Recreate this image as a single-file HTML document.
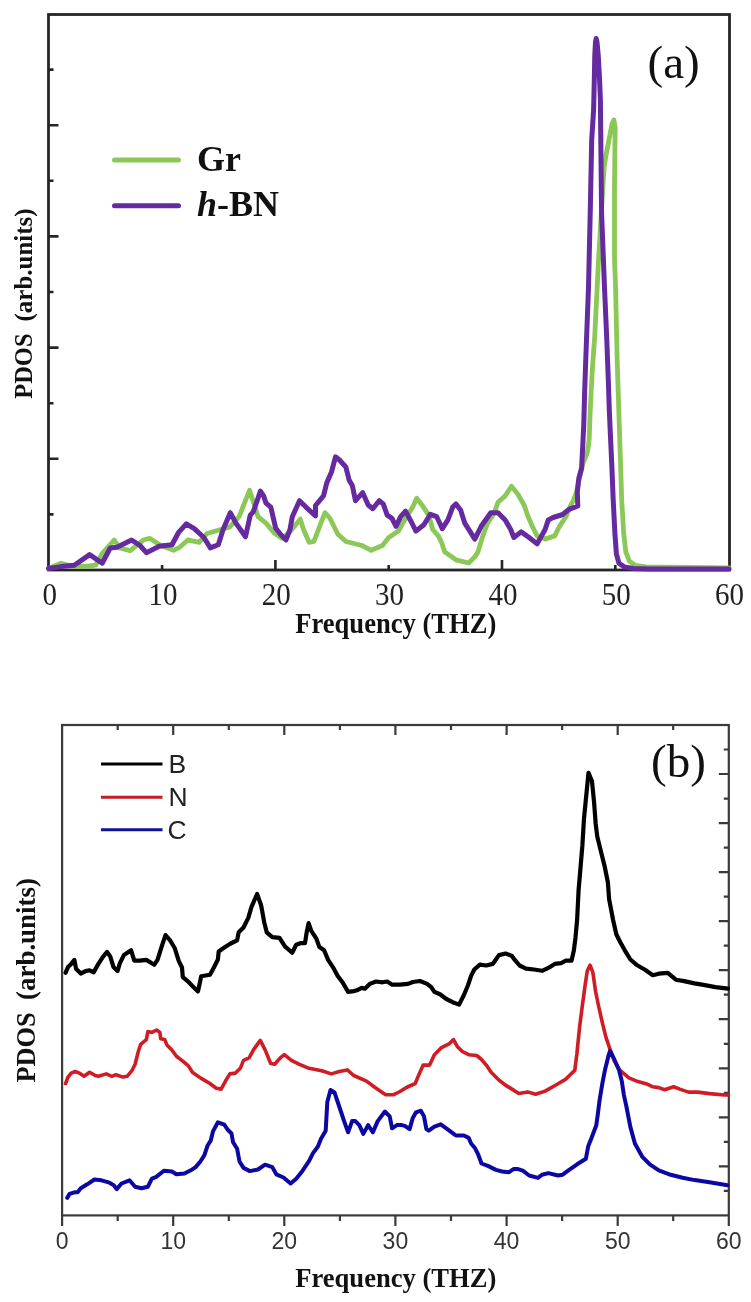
<!DOCTYPE html>
<html><head><meta charset="utf-8"><style>
html,body{margin:0;padding:0;background:#fff;}
svg{display:block;filter:blur(0.45px);}
.ta{font-family:"Liberation Serif",serif;font-size:29px;fill:#222;}
.tb{font-family:"Liberation Sans",sans-serif;font-size:23px;fill:#333;}
.lg{font-family:"Liberation Serif",serif;font-weight:bold;font-size:36px;fill:#111;}
.pl{font-family:"Liberation Serif",serif;font-size:47px;fill:#111;}
.plb{font-family:"Liberation Serif",serif;font-size:47px;fill:#111;}
.xl{font-family:"Liberation Serif",serif;font-weight:bold;font-size:26.6px;fill:#111;}
.yl{font-family:"Liberation Serif",serif;font-weight:bold;font-size:24.5px;fill:#111;}
.ylb{font-family:"Liberation Serif",serif;font-weight:bold;font-size:27.5px;fill:#111;}
.lb{font-family:"Liberation Sans",sans-serif;font-size:25px;fill:#222;}
</style></head><body>
<svg width="751" height="1302" viewBox="0 0 751 1302">
<rect width="751" height="1302" fill="#fff"/>
<rect x="48.5" y="14.5" width="681.0" height="555.5" fill="none" stroke="#262626" stroke-width="2.8"/>
<path d="M48.5,514.4h5 M48.5,458.8h10 M48.5,403.2h5 M48.5,347.6h10 M48.5,292.0h5 M48.5,236.4h10 M48.5,180.8h5 M48.5,125.2h10 M48.5,69.6h5 M162.1,570v-5 M275.4,570v-10 M388.7,570v-5 M502.0,570v-10 M615.3,570v-5" stroke="#262626" stroke-width="2.6" fill="none"/>
<text x="48.8" y="0" transform="translate(0.9,605.3) scale(1,1.09)" text-anchor="middle" class="ta">0</text>
<text x="162.1" y="0" transform="translate(0.9,605.3) scale(1,1.09)" text-anchor="middle" class="ta">10</text>
<text x="275.4" y="0" transform="translate(0.9,605.3) scale(1,1.09)" text-anchor="middle" class="ta">20</text>
<text x="388.7" y="0" transform="translate(0.9,605.3) scale(1,1.09)" text-anchor="middle" class="ta">30</text>
<text x="502.0" y="0" transform="translate(0.9,605.3) scale(1,1.09)" text-anchor="middle" class="ta">40</text>
<text x="615.3" y="0" transform="translate(0.9,605.3) scale(1,1.09)" text-anchor="middle" class="ta">50</text>
<text x="728.6" y="0" transform="translate(0.9,605.3) scale(1,1.09)" text-anchor="middle" class="ta">60</text>
<polyline points="48.5,568.5 61.0,563.2 73.0,566.6 89.0,566.0 95.6,565.2 102.3,553.3 114.2,540.0 119.6,548.0 130.2,550.6 143.5,540.0 149.6,538.3 160.8,545.5 173.6,550.3 180.0,547.1 187.9,539.9 199.1,542.3 207.1,533.5 218.3,530.3 229.5,527.1 239.1,516.7 249.5,490.3 255.0,507.1 258.0,516.7 266.0,523.1 274.0,532.7 282.0,538.3 289.1,532.7 300.3,519.1 303.5,529.5 309.1,542.3 313.9,541.5 320.3,524.7 325.1,512.7 329.9,518.3 337.9,534.3 345.9,541.5 361.9,545.5 371.2,550.3 382.4,545.5 388.8,537.5 398.4,531.1 404.7,519.9 412.7,507.1 416.7,498.3 422.3,505.5 428.7,515.1 432.7,529.5 438.3,535.9 441.5,542.3 444.7,551.9 455.9,559.8 468.7,563.0 475.0,556.6 478.0,551.9 482.8,535.9 487.6,523.1 494.0,513.5 498.0,502.3 505.2,495.9 511.5,486.3 517.9,494.3 524.3,505.5 527.5,515.1 532.3,526.3 537.1,535.9 545.1,539.1 554.7,535.9 559.5,526.3 565.9,516.7 570.7,505.5 573.5,500.0 576.5,492.0 578.5,482.0 581.0,472.0 583.0,463.0 586.5,455.0 587.7,450.6 589.2,439.0 590.0,416.0 591.1,393.0 592.3,370.0 594.7,336.7 598.4,263.0 601.5,210.0 604.1,167.5 606.0,155.2 609.6,136.8 612.0,124.0 613.9,120.0 615.2,128.0 615.0,140.0 614.5,186.0 614.5,223.0 614.5,260.0 615.6,287.5 617.2,361.0 617.8,380.0 618.8,410.0 619.6,435.0 620.6,465.0 621.7,500.0 623.7,533.3 625.8,551.9 629.4,561.2 635.6,565.4 646.0,566.9 729.0,568.0" fill="none" stroke="#8cc857" stroke-width="4.8" stroke-linejoin="round" stroke-linecap="round"/>
<polyline points="48.5,568.5 61.0,566.6 74.3,565.2 89.6,554.6 102.3,563.2 110.2,548.0 116.9,547.3 131.6,540.0 140.0,545.5 146.4,552.7 159.2,546.3 172.0,544.7 178.4,532.7 186.3,523.9 194.3,528.7 203.9,537.5 210.3,547.9 218.3,544.7 223.1,529.5 230.3,512.7 235.9,523.1 245.5,536.7 250.3,515.1 253.2,511.9 257.2,500.7 260.4,491.1 263.6,495.9 266.0,503.1 270.8,507.1 275.6,527.9 280.4,534.3 286.0,539.9 290.0,529.5 292.3,516.7 299.5,500.7 305.9,507.1 315.5,515.9 315.5,505.5 323.5,495.9 326.7,483.1 331.5,472.0 335.5,456.8 339.5,460.0 345.9,467.2 349.1,480.0 352.3,485.5 355.5,500.7 362.7,492.7 368.2,505.0 372.8,508.7 379.2,500.7 383.2,503.9 387.2,515.1 392.0,518.3 396.0,526.3 400.7,516.7 405.5,511.1 411.1,521.5 415.9,531.1 423.9,524.7 430.3,514.3 436.7,516.7 442.3,528.7 447.9,519.9 452.7,507.1 455.9,503.9 460.7,510.3 464.7,523.1 470.3,531.9 474.8,539.1 481.2,526.3 490.8,512.7 498.0,512.7 505.2,519.9 510.7,529.5 513.9,537.5 521.1,531.9 529.1,537.5 537.1,543.9 545.1,529.5 548.3,519.9 553.1,517.5 562.7,514.5 568.8,509.4 574.3,507.4 577.8,506.0 577.3,492.0 578.8,478.4 581.6,468.0 582.7,446.8 583.8,423.7 584.6,393.0 585.4,370.0 586.3,345.0 588.5,287.5 590.2,213.8 591.7,140.0 593.6,110.0 594.3,80.0 594.8,55.0 595.5,42.0 596.2,38.5 597.0,42.0 598.2,55.0 599.6,80.0 600.4,100.0 600.8,140.0 601.6,213.8 604.5,287.5 606.8,340.0 608.3,380.0 609.3,410.0 610.4,435.0 611.8,465.0 613.2,500.0 614.9,533.3 616.4,554.0 619.0,563.3 624.2,566.9 633.5,568.5 650.0,569.0 729.0,569.0" fill="none" stroke="#6529a0" stroke-width="5" stroke-linejoin="round" stroke-linecap="round"/>
<line x1="114.5" y1="160.1" x2="178.5" y2="160.1" stroke="#8cc857" stroke-width="5" stroke-linecap="round"/>
<line x1="114.5" y1="205.7" x2="178.5" y2="205.7" stroke="#6529a0" stroke-width="5" stroke-linecap="round"/>
<text x="197" y="171" class="lg">Gr</text>
<text x="197" y="215.5" class="lg"><tspan font-style="italic">h</tspan>-BN</text>
<text x="647.5" y="78" class="pl">(a)</text>
<text x="295.2" y="0" transform="translate(0,632.6) scale(1,1.1)" class="xl">Frequency (THZ)</text>
<text x="0" y="0" transform="translate(32.2,398.8) rotate(-90)" class="yl">PDOS</text>
<text x="0" y="0" transform="translate(32.2,321.5) rotate(-90) scale(1.02,1)" class="yl">(arb.units)</text>
<rect x="62.1" y="725" width="666.6999999999999" height="490.4000000000001" fill="none" stroke="#3a3a3a" stroke-width="2.2"/>
<path d="M117.7,725v5 M173.2,725v10 M228.8,725v5 M284.3,725v10 M339.9,725v5 M395.4,725v10 M451.0,725v5 M506.6,725v10 M562.1,725v5 M617.7,725v10 M673.2,725v5 M62.1,1215.4v10.5 M117.7,1215.4v5.5 M173.2,1215.4v10.5 M228.8,1215.4v5.5 M284.3,1215.4v10.5 M339.9,1215.4v5.5 M395.4,1215.4v10.5 M451.0,1215.4v5.5 M506.6,1215.4v10.5 M562.1,1215.4v5.5 M617.7,1215.4v10.5 M673.2,1215.4v5.5 M728.8,1215.4v10.5 M728.8,1190.9h-5 M728.8,1166.4h-10 M728.8,1141.8h-5 M728.8,1117.3h-10 M728.8,1092.8h-5 M728.8,1068.3h-10 M728.8,1043.8h-5 M728.8,1019.2h-10 M728.8,994.7h-5 M728.8,970.2h-10 M728.8,945.7h-5 M728.8,921.2h-10 M728.8,896.6h-5 M728.8,872.1h-10 M728.8,847.6h-5 M728.8,823.1h-10 M728.8,798.6h-5 M728.8,774.0h-10 M728.8,749.5h-5" stroke="#3a3a3a" stroke-width="2.2" fill="none"/>
<text x="62.1" y="1249.3" text-anchor="middle" class="tb">0</text>
<text x="173.2" y="1249.3" text-anchor="middle" class="tb">10</text>
<text x="284.3" y="1249.3" text-anchor="middle" class="tb">20</text>
<text x="395.4" y="1249.3" text-anchor="middle" class="tb">30</text>
<text x="506.6" y="1249.3" text-anchor="middle" class="tb">40</text>
<text x="617.7" y="1249.3" text-anchor="middle" class="tb">50</text>
<text x="728.8" y="1249.3" text-anchor="middle" class="tb">60</text>
<polyline points="65.6,972.7 68.0,967.1 71.2,963.9 74.4,959.9 76.0,968.7 80.8,973.5 85.6,971.1 89.6,970.3 93.6,972.4 98.4,963.9 103.1,956.7 107.1,951.9 110.3,956.7 113.5,967.1 117.5,971.1 119.9,963.1 123.9,955.1 131.1,950.3 134.3,960.7 139.9,960.7 146.3,959.9 154.3,964.7 157.5,959.9 161.5,947.1 165.5,935.1 170.3,940.7 174.8,948.3 178.8,961.1 182.0,967.5 182.8,977.1 187.6,981.1 192.4,985.9 198.0,991.4 201.2,976.3 210.0,974.7 213.9,967.5 217.9,959.5 218.7,951.5 224.3,947.5 230.7,943.5 237.1,940.3 238.7,932.3 243.5,927.5 248.3,917.9 251.5,906.8 257.1,894.0 261.1,905.2 264.3,922.7 266.7,932.3 272.3,937.1 279.5,937.9 285.1,946.7 292.2,952.7 296.2,944.7 301.0,943.1 305.0,943.1 306.6,932.7 308.6,923.1 311.4,931.1 316.2,938.3 319.4,947.1 324.1,950.3 328.1,959.9 332.9,967.1 337.7,975.9 342.5,982.3 348.1,991.9 353.7,991.1 356.9,990.3 361.7,987.9 364.9,988.7 369.7,983.9 376.1,981.5 382.5,982.3 387.3,981.5 392.1,984.7 400.1,984.7 408.0,983.9 412.8,982.0 420.0,981.0 427.2,983.9 431.2,987.1 434.4,991.9 440.0,994.3 446.3,999.0 452.7,1002.2 459.1,1004.6 463.9,995.0 467.9,985.5 471.1,975.9 474.3,969.5 479.9,964.7 486.3,965.5 492.7,963.9 499.1,955.1 505.5,953.5 511.9,955.9 514.8,959.9 519.6,965.5 526.0,968.7 534.0,969.5 542.0,970.8 548.4,967.9 554.7,963.9 561.1,963.1 565.9,960.7 571.5,960.7 573.9,950.3 575.5,937.5 577.1,920.0 578.6,890.0 579.7,877.2 582.4,845.2 584.0,818.6 586.6,792.0 588.5,772.8 592.0,781.3 594.1,802.6 595.7,823.9 597.3,836.7 601.5,853.7 604.7,866.5 607.9,882.5 609.1,899.2 613.1,920.0 616.3,934.3 620.3,942.3 624.5,949.8 630.4,959.5 636.4,964.7 645.4,970.0 652.8,975.2 658.8,973.7 667.7,972.9 675.9,979.7 684.1,981.1 694.6,983.4 703.5,984.9 715.5,987.1 728.0,988.6" fill="none" stroke="#000" stroke-width="4.2" stroke-linejoin="round" stroke-linecap="round"/>
<polyline points="65.6,1083.5 68.0,1077.1 71.2,1073.1 75.2,1071.5 79.2,1073.1 84.0,1076.3 89.6,1072.3 95.2,1075.5 98.4,1076.3 106.3,1073.9 111.9,1076.3 115.9,1074.7 123.1,1077.1 127.1,1076.3 131.9,1070.7 135.1,1064.3 138.3,1051.5 140.7,1044.4 146.3,1039.6 147.9,1031.6 151.9,1032.4 156.7,1030.0 159.9,1032.4 160.7,1038.8 164.7,1039.6 167.1,1045.2 171.9,1050.0 176.4,1056.3 182.8,1061.1 188.4,1065.9 192.4,1072.3 200.4,1077.9 209.9,1083.5 216.3,1088.3 221.1,1089.1 225.9,1080.3 229.9,1073.9 235.5,1073.1 240.3,1068.3 243.5,1060.3 249.1,1057.9 253.9,1049.1 260.3,1040.4 265.1,1049.9 270.7,1063.5 274.7,1064.3 280.3,1057.9 284.3,1054.7 291.4,1060.3 299.4,1064.3 309.0,1068.3 321.8,1070.7 331.3,1073.9 339.3,1071.5 347.3,1069.9 353.7,1075.5 366.5,1081.1 376.1,1088.3 385.7,1094.7 393.7,1094.7 400.0,1091.5 406.4,1087.5 415.2,1083.5 419.2,1073.9 423.2,1065.1 429.6,1065.1 434.4,1054.7 441.5,1047.6 449.5,1043.6 453.5,1039.6 457.5,1046.8 462.3,1051.5 468.7,1054.7 476.7,1055.5 481.5,1059.5 486.3,1065.1 491.1,1072.3 499.1,1080.3 505.5,1085.1 511.9,1089.1 518.8,1093.5 527.6,1091.9 535.6,1094.3 545.2,1091.1 556.3,1084.7 565.9,1079.1 574.8,1070.2 576.9,1053.7 579.7,1026.0 582.4,1005.3 585.2,984.6 587.3,970.7 590.0,965.2 592.8,972.1 595.6,991.5 599.0,1008.0 602.5,1023.3 605.9,1037.1 610.1,1049.5 614.2,1060.6 619.8,1070.2 628.9,1077.9 637.9,1081.6 646.8,1083.9 652.8,1086.8 658.8,1087.6 664.7,1089.8 673.7,1086.8 679.7,1089.1 688.6,1092.1 697.6,1092.1 709.5,1093.6 724.4,1095.0 728.5,1095.0" fill="none" stroke="#d01c24" stroke-width="3.6" stroke-linejoin="round" stroke-linecap="round"/>
<polyline points="67.2,1197.9 69.6,1193.9 74.4,1192.3 77.6,1192.3 80.8,1188.3 87.2,1184.3 94.4,1179.5 101.5,1180.3 109.5,1182.7 113.5,1185.1 116.7,1189.1 121.5,1183.5 129.5,1180.3 135.1,1186.7 141.5,1188.3 147.9,1186.7 151.9,1178.7 155.9,1177.1 163.9,1170.7 171.9,1171.5 176.4,1174.3 184.4,1173.5 190.8,1170.3 195.6,1167.1 200.4,1161.5 204.4,1155.1 207.6,1145.5 210.7,1140.7 213.1,1131.1 217.9,1122.3 224.3,1124.7 227.5,1129.5 231.5,1133.5 233.1,1142.3 237.1,1148.7 239.5,1161.5 243.5,1167.9 249.9,1171.1 257.9,1169.5 265.1,1164.7 272.3,1167.1 276.3,1174.3 283.5,1177.5 290.6,1183.5 296.2,1178.7 302.6,1170.7 309.0,1161.1 313.0,1153.1 317.8,1146.7 321.0,1138.7 325.7,1130.7 326.5,1116.3 327.3,1102.0 330.5,1090.0 334.5,1092.4 337.7,1102.0 340.9,1111.5 344.1,1121.1 348.1,1132.3 352.1,1121.1 355.3,1121.1 359.3,1125.1 363.3,1133.9 368.1,1125.1 372.9,1132.3 377.7,1121.1 384.9,1111.5 389.7,1116.3 392.1,1128.3 396.9,1125.1 401.7,1125.1 404.8,1125.9 409.6,1129.1 412.8,1117.9 416.0,1112.3 420.8,1110.7 424.0,1116.3 426.4,1129.1 428.8,1130.7 434.4,1126.7 440.7,1124.3 446.3,1128.3 452.7,1133.1 455.9,1135.5 463.9,1135.5 468.7,1137.9 471.1,1143.5 475.1,1148.3 478.3,1154.7 481.5,1163.5 487.9,1165.9 495.9,1169.9 502.3,1171.5 508.7,1172.3 513.5,1169.1 518.0,1169.1 522.8,1170.7 529.2,1175.5 538.0,1177.9 542.0,1174.7 548.4,1173.1 557.9,1175.5 562.7,1174.7 569.1,1169.9 577.1,1164.3 585.9,1158.7 588.3,1145.9 591.5,1137.9 596.3,1125.2 597.6,1115.9 599.7,1099.3 602.5,1082.7 605.2,1068.9 608.7,1055.0 610.1,1050.9 614.2,1059.2 619.1,1070.2 621.8,1081.3 623.9,1095.1 626.3,1106.0 630.4,1127.1 634.9,1143.5 642.4,1156.9 649.8,1164.4 658.8,1170.4 670.7,1174.8 682.6,1177.8 694.6,1180.1 709.5,1182.3 727.4,1185.3" fill="none" stroke="#0c06a4" stroke-width="4" stroke-linejoin="round" stroke-linecap="round"/>
<line x1="101" y1="764" x2="162.5" y2="764" stroke="#000" stroke-width="3"/>
<line x1="101" y1="797.2" x2="162.5" y2="797.2" stroke="#c41a22" stroke-width="3"/>
<line x1="101" y1="829.8" x2="162.5" y2="829.8" stroke="#10109a" stroke-width="3"/>
<text x="0" y="0" transform="translate(168.5,772.8) scale(1.06,1)" class="lb">B</text>
<text x="0" y="0" transform="translate(168.5,805.8) scale(1.06,1)" class="lb">N</text>
<text x="0" y="0" transform="translate(167.5,838.5) scale(1.06,1)" class="lb">C</text>
<text x="651" y="777" class="plb">(b)</text>
<text x="295.2" y="1287" class="xl">Frequency (THZ)</text>
<text x="0" y="0" transform="translate(35,1082.6) rotate(-90) scale(0.96,1)" class="ylb">PDOS</text>
<text x="0" y="0" transform="translate(35,1000) rotate(-90) scale(0.98,1)" class="ylb">(arb.units)</text>
</svg>
</body></html>
